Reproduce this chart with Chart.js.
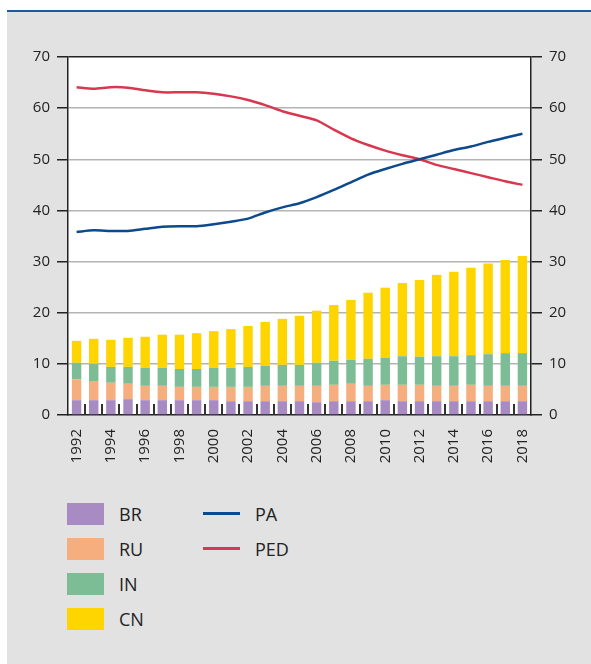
<!DOCTYPE html>
<html lang="de">

<head>
    <meta charset="UTF-8" />
    <title>BR RU IN CN – PA / PED</title>
    <script src="https://cdn.jsdelivr.net/npm/chart.js"></script>
    <style>
        * {
            font-family: 'Open Sans', sans-serif;
            box-sizing: border-box;
        }

        body {
            margin: 0;
            background: #ffffff;
            width: 591px;
            height: 664px;
            position: relative;
            overflow: hidden;
        }

        .panel {
            position: absolute;
            left: 7px;
            top: 12px;
            right: 0;
            bottom: 0;
            background: #e2e2e2;
        }

        .topline {
            position: absolute;
            left: 7px;
            top: 10px;
            right: 0;
            height: 2px;
            background: #1d5a9c;
        }

        .chart-box {
            position: absolute;
            left: 0;
            top: 0;
            width: 591px;
            height: 480px;
        }

        .legend-item {
            position: absolute;
            display: flex;
            align-items: center;
            font-size: 18px;
            color: #222;
            height: 23px;
        }

        .legend-item .box {
            width: 37px;
            height: 22px;
            margin-right: 15px;
        }

        .legend-item .line {
            width: 37px;
            height: 3px;
            margin-right: 15px;
        }
    </style>
</head>

<body>
    <div class="panel"></div>
    <div class="topline"></div>
    <div class="chart-box">
        <canvas id="chart"></canvas>
    </div>
    <div id="legend"></div>

    <script>
        const years = ['1992', '1993', '1994', '1995', '1996', '1997', '1998', '1999', '2000', '2001', '2002', '2003', '2004',
            '2005', '2006', '2007', '2008', '2009', '2010', '2011', '2012', '2013', '2014', '2015', '2016', '2017', '2018'];

        const br = [2.9, 2.9, 2.9, 3.1, 2.9, 2.9, 2.9, 2.9, 2.9, 2.7, 2.7, 2.7, 2.7, 2.7, 2.5, 2.7, 2.7, 2.7, 2.9, 2.7, 2.7, 2.7, 2.7, 2.7, 2.7, 2.7, 2.7];
        const ru = [4.1, 3.75, 3.4, 3.0, 2.8, 2.8, 2.6, 2.6, 2.6, 2.8, 2.8, 3.0, 3.0, 3.0, 3.2, 3.2, 3.4, 3.0, 3.0, 3.2, 3.2, 3.0, 3.0, 3.2, 3.0, 3.0, 3.0];
        const inn = [3.2, 3.35, 3.1, 3.3, 3.5, 3.5, 3.5, 3.5, 3.7, 3.7, 3.9, 3.9, 4.1, 4.1, 4.5, 4.7, 4.7, 5.3, 5.3, 5.6, 5.5, 5.8, 5.8, 5.8, 6.2, 6.4, 6.4];
        const cn = [4.3, 4.9, 5.3, 5.7, 6.1, 6.5, 6.7, 7.0, 7.2, 7.6, 8.0, 8.6, 9.0, 9.6, 10.2, 10.9, 11.7, 12.9, 13.7, 14.3, 15.0, 15.9, 16.5, 17.1, 17.7, 18.2, 19.0];

        const pa = [35.8, 36.1, 36.0, 36.0, 36.4, 36.8, 36.9, 36.9, 37.3, 37.8, 38.4, 39.6, 40.6, 41.4, 42.6, 44.0, 45.5, 47.0, 48.1, 49.1, 50.0, 50.9, 51.8, 52.5, 53.4, 54.2, 55.0];
        const ped = [64.1, 63.8, 64.1, 64.0, 63.5, 63.1, 63.1, 63.1, 62.8, 62.3, 61.6, 60.6, 59.4, 58.5, 57.6, 55.8, 54.1, 52.8, 51.7, 50.8, 50.0, 48.9, 48.1, 47.3, 46.5, 45.7, 45.0];

        const yTicks = [0, 10, 20, 30, 40, 50, 60, 70];

        const colors = {
            BR: '#a98bc3',
            RU: '#f6ae7e',
            IN: '#7dbd96',
            CN: '#ffd500',
            PA: '#0c4a8d',
            PED: '#d9374f'
        };

        // weisser Plotbereich + kurze Striche zwischen den Jahren
        const plotDecor = {
            id: 'plotDecor',
            beforeDraw(chart) {
                const a = chart.chartArea;
                const ctx = chart.ctx;
                ctx.save();
                ctx.fillStyle = '#ffffff';
                ctx.fillRect(a.left, a.top, a.right - a.left, a.bottom - a.top);
                ctx.restore();
            },
            afterDatasetsDraw(chart) {
                const x = chart.scales.x;
                const a = chart.chartArea;
                const ctx = chart.ctx;
                ctx.save();
                ctx.strokeStyle = '#333';
                ctx.lineWidth = 2;
                for (let i = 0; i < years.length - 1; i++) {
                    const px = Math.round((x.getPixelForValue(i) + x.getPixelForValue(i + 1)) / 2);
                    ctx.beginPath();
                    ctx.moveTo(px, a.bottom - 11);
                    ctx.lineTo(px, a.bottom);
                    ctx.stroke();
                }
                ctx.restore();
            }
        };

        const tickFont = { family: 'Open Sans', size: 15 };

        new Chart(document.getElementById('chart'), {
            type: 'bar',
            data: {
                labels: years,
                datasets: [
                    { type: 'line', label: 'PA', data: pa, yAxisID: 'y2', borderColor: colors.PA, borderWidth: 2.5, pointRadius: 0, tension: 0.25, order: 0 },
                    { type: 'line', label: 'PED', data: ped, yAxisID: 'y2', borderColor: colors.PED, borderWidth: 2.5, pointRadius: 0, tension: 0.25, order: 0 },
                    { label: 'BR', data: br, backgroundColor: colors.BR, order: 1 },
                    { label: 'RU', data: ru, backgroundColor: colors.RU, order: 1 },
                    { label: 'IN', data: inn, backgroundColor: colors.IN, order: 1 },
                    { label: 'CN', data: cn, backgroundColor: colors.CN, order: 1 }
                ]
            },
            options: {
                responsive: true,
                maintainAspectRatio: false,
                animation: false,
                layout: { padding: { top: 57, left: 0, right: 0, bottom: 0 } },
                datasets: {
                    bar: { barPercentage: 0.55, categoryPercentage: 1 }
                },
                plugins: {
                    legend: { display: false },
                    tooltip: { enabled: false }
                },
                scales: {
                    x: {
                        stacked: true,
                        offset: true,
                        afterFit(s) { s.height = 65; },
                        grid: { display: false },
                        border: { color: '#222', width: 1.5 },
                        ticks: {
                            autoSkip: false,
                            minRotation: 90,
                            maxRotation: 90,
                            padding: 6,
                            color: '#222',
                            font: tickFont,
                            callback: (v, i) => (i % 2 === 0 ? years[i] : '')
                        }
                    },
                    y: {
                        stacked: true,
                        position: 'left',
                        min: 0,
                        max: 70,
                        afterFit(s) { s.width = 68; },
                        afterBuildTicks(s) { s.ticks = yTicks.map(v => ({ value: v })); },
                        border: { color: '#222', width: 1.5 },
                        grid: {
                            color: c => (c.tick && c.tick.value === 70 ? '#222' : (c.tick && c.tick.value === 0 ? 'rgba(0,0,0,0)' : '#b4b4b4')),
                            lineWidth: 1.5,
                            tickColor: '#222',
                            tickLength: 11
                        },
                        ticks: { padding: 7, color: '#222', font: tickFont }
                    },
                    y2: {
                        position: 'right',
                        min: 0,
                        max: 70,
                        afterFit(s) { s.width = 60; },
                        afterBuildTicks(s) { s.ticks = yTicks.map(v => ({ value: v })); },
                        border: { color: '#222', width: 1.5 },
                        grid: { drawOnChartArea: false, tickColor: '#222', tickLength: 11, lineWidth: 1.5 },
                        ticks: { padding: 7, color: '#222', font: tickFont }
                    }
                }
            },
            plugins: [plotDecor]
        });

        // Legende
        const legendBars = ['BR', 'RU', 'IN', 'CN'];
        const legendLines = ['PA', 'PED'];
        const legend = document.getElementById('legend');
        legendBars.forEach((name, i) => {
            const el = document.createElement('div');
            el.className = 'legend-item';
            el.style.left = '67px';
            el.style.top = (502 + i * 35) + 'px';
            el.innerHTML = `<span class="box" style="background:${colors[name]}"></span>${name}`;
            legend.appendChild(el);
        });
        legendLines.forEach((name, i) => {
            const el = document.createElement('div');
            el.className = 'legend-item';
            el.style.left = '203px';
            el.style.top = (502 + i * 35) + 'px';
            el.innerHTML = `<span class="line" style="background:${colors[name]}"></span>${name}`;
            legend.appendChild(el);
        });
    </script>
</body>

</html>
